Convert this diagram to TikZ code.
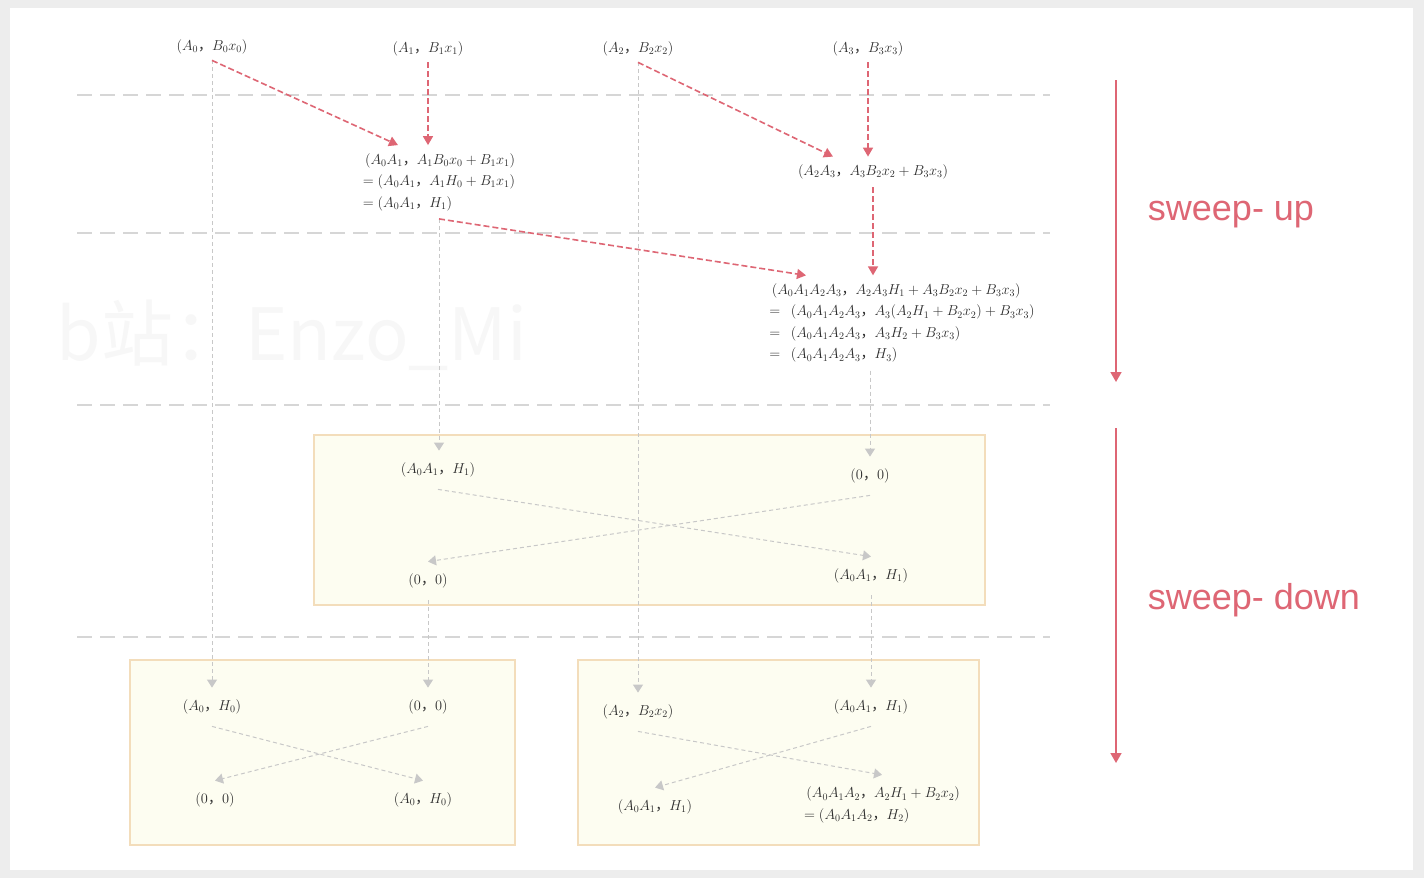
\documentclass[tikz,border=0pt]{standalone}
\usepackage{amsmath}
\usepackage{fontspec}
\setsansfont{Liberation Sans}
\newfontfamily\cjk{Noto Sans CJK SC}
\usetikzlibrary{arrows.meta}
\definecolor{sweep}{HTML}{DE6674}
\definecolor{ink}{HTML}{2C2C2C}
\definecolor{panelfill}{HTML}{FDFDF1}
\definecolor{paneledge}{HTML}{F3DDBB}
\definecolor{rule}{HTML}{D6D6D6}
\definecolor{trace}{HTML}{C8C8C8}
\newcommand{\zc}{\mbox{\cjk ，}}

\begin{document}
\begin{tikzpicture}[x=1pt,y=-1pt,
  lbl/.style={font=\fontsize{14}{21.5}\selectfont, text=ink, inner sep=8pt, align=left},
  cell/.style={font=\fontsize{14}{21.5}\selectfont, text=ink, inner sep=12pt, align=left},
  upflow/.style={-{Triangle[length=9pt,width=10pt]}, sweep, line width=1.6pt, dash pattern=on 6pt off 3pt},
  downflow/.style={-{Triangle[length=8pt,width=10pt]}, trace, line width=1pt, dash pattern=on 4pt off 3pt},
  divider/.style={rule, line width=1.3pt, dash pattern=on 15pt off 8pt},
  panel/.style={draw=paneledge, fill=panelfill, line width=1.2pt},
  phase/.style={-{Triangle[length=10pt,width=11pt]}, sweep, line width=1.6pt},
  phaselbl/.style={font=\sffamily\fontsize{36}{42}\selectfont, text=sweep}
]
  \fill[gray!14] (0,0) rectangle (1424,878);
  \fill[white] (10,8) rectangle (1413,870);
  \useasboundingbox (0,0) rectangle (1424,878);

  \node[font=\cjk\fontsize{72}{74}\selectfont, text=gray!6] (mark) at (292,335) {b站：Enzo\_Mi};

  \foreach \y in {95,233,405,637}
    \draw[divider] (77,\y) -- (1050,\y);

  \draw[panel] (314,435) rectangle (985,605);
  \draw[panel] (130,660) rectangle (515,845);
  \draw[panel] (578,660) rectangle (979,845);

  % inputs
  \node[lbl, inner sep=6pt] (n0) at (212,47) {$(A_0\zc B_0x_0)$};
  \node[lbl, inner sep=6pt] (n1) at (428,49) {$(A_1\zc B_1x_1)$};
  \node[lbl, inner sep=6pt] (n2) at (638,49) {$(A_2\zc B_2x_2)$};
  \node[lbl, inner sep=6pt] (n3) at (868,49) {$(A_3\zc B_3x_3)$};

  % sweep-up
  \node[lbl] (s1) at (439,182) {$\,(A_0A_1\zc A_1B_0x_0+B_1x_1)$\\
    $=(A_0A_1\zc A_1H_0+B_1x_1)$\\
    $=(A_0A_1\zc H_1)$};
  \node[lbl] (s23) at (873,172) {$(A_2A_3\zc A_3B_2x_2+B_3x_3)$};
  \node[lbl] (s03) at (902,323) {$\,(A_0A_1A_2A_3\zc A_2A_3H_1+A_3B_2x_2+B_3x_3)$\\
    $=\;\,(A_0A_1A_2A_3\zc A_3(A_2H_1+B_2x_2)+B_3x_3)$\\
    $=\;\,(A_0A_1A_2A_3\zc A_3H_2+B_3x_3)$\\
    $=\;\,(A_0A_1A_2A_3\zc H_3)$};

  % sweep-down
  \node[cell] (m00) at (438,470) {$(A_0A_1\zc H_1)$};
  \node[cell] (m01) at (870,476) {$(0\zc 0)$};
  \node[cell] (m10) at (428,581) {$(0\zc 0)$};
  \node[cell] (m11) at (871,576) {$(A_0A_1\zc H_1)$};

  \node[cell] (b00) at (212,707) {$(A_0\zc H_0)$};
  \node[cell] (b01) at (428,707) {$(0\zc 0)$};
  \node[cell] (b10) at (215,800) {$(0\zc 0)$};
  \node[cell] (b11) at (423,800) {$(A_0\zc H_0)$};

  \node[cell] (r00) at (638,712) {$(A_2\zc B_2x_2)$};
  \node[cell] (r01) at (871,707) {$(A_0A_1\zc H_1)$};
  \node[cell] (r10) at (655,807) {$(A_0A_1\zc H_1)$};
  \node[cell] (r11) at (882,805) {$\,(A_0A_1A_2\zc A_2H_1+B_2x_2)$\\
    $=(A_0A_1A_2\zc H_2)$};

  \draw[downflow] (n0.south) -- (b00.north);
  \draw[downflow] (n2.south) -- (r00.north);
  \draw[downflow] (s1.south) -- (s1.south |- m00.north);
  \draw[downflow] (m01.north |- s03.south) -- (m01.north);
  \draw[downflow] (m10.south) -- (b01.north);
  \draw[downflow] (m11.south) -- (r01.north);

  \draw[downflow] (m00.south) -- (m11.north);
  \draw[downflow] (m01.south) -- (m10.north);
  \draw[downflow] (b00.south) -- (b11.north);
  \draw[downflow] (b01.south) -- (b10.north);
  \draw[downflow] (r00.south) -- (r11.north);
  \draw[downflow] (r01.south) -- (r10.north);

  \draw[upflow] (n0.south) -- ([xshift=-41pt]s1.north);
  \draw[upflow] (n1.south) -- (n1.south |- s1.north);
  \draw[upflow] (n2.south) -- ([xshift=-40pt]s23.north);
  \draw[upflow] (n3.south) -- (n3.south |- s23.north);
  \draw[upflow] (s1.south) -- ([xshift=-96pt]s03.north);
  \draw[upflow] (s23.south) -- (s23.south |- s03.north);

  % phases
  \coordinate (u0) at (1116,80);
  \coordinate (u1) at (1116,382);
  \coordinate (d0) at (1116,428);
  \coordinate (d1) at (1116,763);
  \draw[phase] (u0) -- (u1);
  \draw[phase] (d0) -- (d1);
  \node[phaselbl] (uplbl) at (1231,215) {sweep- up};
  \node[phaselbl] (downlbl) at (1254,600) {sweep- down};
\end{tikzpicture}
\end{document}
